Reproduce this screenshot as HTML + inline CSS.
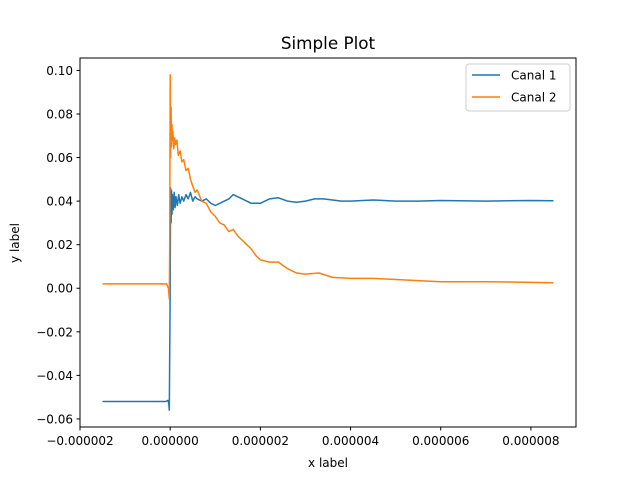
<!DOCTYPE html>
<html><head><meta charset="utf-8"><style>
body{margin:0;background:#fff}
svg text{font-family:"DejaVu Sans","Liberation Sans",sans-serif;fill:#000}
</style></head><body>
<svg id="chart" width="640" height="480" viewBox="0 0 640 480">
<rect width="640" height="480" fill="#fff"/>
<text x="328" y="49" font-size="16.8" text-anchor="middle">Simple Plot</text>
<g id="plot"></g>
<rect x="80" y="58" width="496" height="369" fill="none" stroke="#000" stroke-width="1"/>
<g id="ticks"></g>
<text x="328" y="467" font-size="12" text-anchor="middle">x label</text>
<text transform="translate(19,243) rotate(-90)" font-size="12" text-anchor="middle">y label</text>
<g>
<rect x="466" y="64" width="104" height="47" rx="3" fill="#fff" fill-opacity="0.8" stroke="#ccc"/>
<g>
<line x1="472" y1="75" x2="500" y2="75" stroke="#1f77b4" stroke-width="1.5"/>
<text x="511" y="79.5" font-size="12">Canal 1</text></g>
<g>
<line x1="472" y1="97" x2="500" y2="97" stroke="#ff7f0e" stroke-width="1.5"/>
<text x="511" y="101.5" font-size="12">Canal 2</text></g>
</g>
</svg>
<script>
const xTicks=[-2,0,2,4,6,8];
const xTickLabels=["\u22120.000002","0.000000","0.000002","0.000004","0.000006","0.000008"];
const yTicks=[-0.06,-0.04,-0.02,0,0.02,0.04,0.06,0.08,0.10];
const yTickLabels=["\u22120.06","\u22120.04","\u22120.02","0.00","0.02","0.04","0.06","0.08","0.10"];
// x in units of 1e-6
const canal1X=[-1.5,-0.1,-0.05,-0.03,-0.02,-0.01,0.0,0.01,0.02,0.03,0.04,0.05,0.07,0.09,0.11,0.13,0.16,0.19,0.22,0.26,0.3,0.35,0.4,0.45,0.5,0.55,0.6,0.7,0.8,0.9,1.0,1.1,1.2,1.3,1.4,1.5,1.6,1.8,2.0,2.2,2.4,2.6,2.8,3.0,3.2,3.4,3.6,3.8,4.0,4.5,5.0,5.5,6.0,7.0,8.0,8.5];
const canal1Y=[-0.052,-0.052,-0.0515,-0.053,-0.056,-0.03,0.0,0.046,0.030,0.045,0.034,0.043,0.036,0.044,0.037,0.042,0.038,0.043,0.039,0.042,0.040,0.043,0.041,0.044,0.040,0.042,0.041,0.040,0.041,0.039,0.038,0.039,0.040,0.041,0.043,0.042,0.041,0.039,0.039,0.041,0.0415,0.040,0.0395,0.040,0.041,0.041,0.0405,0.040,0.040,0.0405,0.040,0.040,0.0403,0.040,0.0403,0.0402];
const canal2X=[-1.5,-0.12,-0.08,-0.04,-0.02,-0.01,0.0,0.01,0.02,0.03,0.04,0.05,0.06,0.08,0.1,0.12,0.15,0.18,0.22,0.26,0.3,0.35,0.4,0.45,0.5,0.55,0.6,0.7,0.8,0.9,1.0,1.1,1.2,1.3,1.4,1.5,1.6,1.7,1.8,1.9,2.0,2.2,2.4,2.6,2.8,3.0,3.3,3.6,4.0,4.5,5.0,5.5,6.0,7.0,8.0,8.5];
const canal2Y=[0.002,0.002,0.002,0.0,-0.005,0.02,0.098,0.06,0.083,0.065,0.075,0.068,0.072,0.064,0.069,0.066,0.068,0.061,0.063,0.058,0.059,0.054,0.055,0.050,0.047,0.044,0.045,0.040,0.039,0.035,0.033,0.030,0.029,0.026,0.027,0.024,0.022,0.020,0.018,0.015,0.013,0.012,0.012,0.009,0.007,0.0065,0.007,0.005,0.0045,0.0045,0.004,0.0035,0.003,0.003,0.0027,0.0025];
const X0=80,X1=576,Y0=58,Y1=427,xmin=-2,xmax=9,ymin=-0.0637,ymax=0.1057;
function sx(v){return X0+(v-xmin)/(xmax-xmin)*(X1-X0);}
function sy(v){return Y1-(v-ymin)/(ymax-ymin)*(Y1-Y0);}
const NS="http://www.w3.org/2000/svg";
const plot=document.getElementById('plot'),ticks=document.getElementById('ticks');
function line(xs,ys,color,name){
 const p=document.createElementNS(NS,'polyline');
 p.setAttribute('points',xs.map((x,i)=>sx(x).toFixed(1)+','+sy(ys[i]).toFixed(1)).join(' '));
 p.setAttribute('fill','none');p.setAttribute('stroke',color);p.setAttribute('stroke-width','1.5');p.setAttribute('stroke-linejoin','round');
 
 
 plot.appendChild(p);
}
line(canal1X,canal1Y,'#1f77b4','series-canal-1');
line(canal2X,canal2Y,'#ff7f0e','series-canal-2');
xTicks.forEach((v,i)=>{
 const x=sx(v);
 const l=document.createElementNS(NS,'line');
 l.setAttribute('x1',x);l.setAttribute('x2',x);l.setAttribute('y1',Y1);l.setAttribute('y2',Y1+3.5);l.setAttribute('stroke','#000');
 
 
 ticks.appendChild(l);
 const t=document.createElementNS(NS,'text');
 t.setAttribute('x',x);t.setAttribute('y',Y1+18);t.setAttribute('font-size','12');t.setAttribute('text-anchor','middle');
 t.textContent=xTickLabels[i];
 
 
 ticks.appendChild(t);
});
yTicks.forEach((v,i)=>{
 const y=sy(v);
 const l=document.createElementNS(NS,'line');
 l.setAttribute('x1',X0-3.5);l.setAttribute('x2',X0);l.setAttribute('y1',y);l.setAttribute('y2',y);l.setAttribute('stroke','#000');
 
 
 ticks.appendChild(l);
 const t=document.createElementNS(NS,'text');
 t.setAttribute('x',X0-7);t.setAttribute('y',y+4.5);t.setAttribute('font-size','12');t.setAttribute('text-anchor','end');
 t.textContent=yTickLabels[i];
 
 
 ticks.appendChild(t);
});
</script>
</body></html>
